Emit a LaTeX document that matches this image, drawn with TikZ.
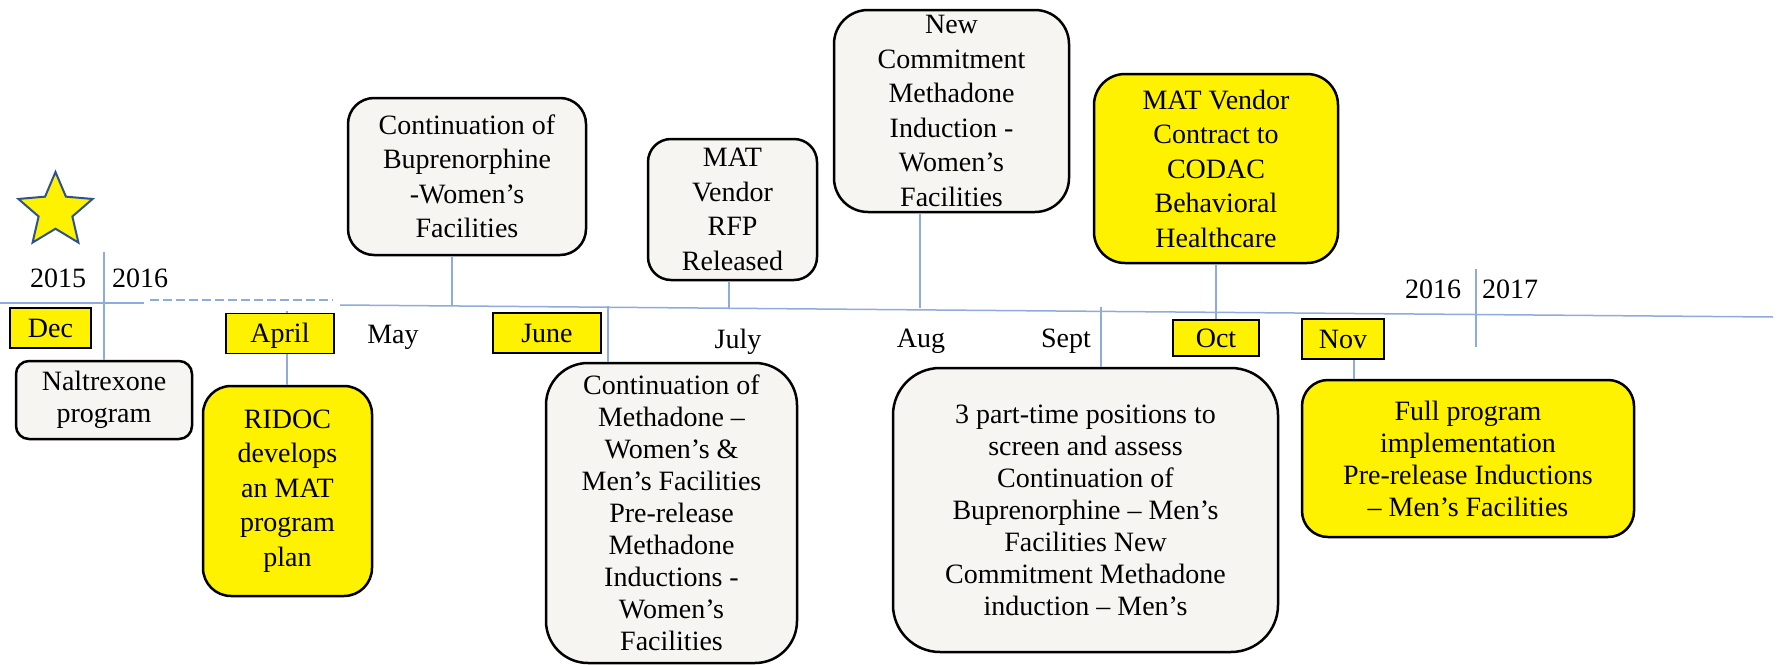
\documentclass[tikz,border=0pt]{standalone}
\usepackage{fontspec}
\setmainfont{Liberation Serif}
\usetikzlibrary{shapes.geometric}
\definecolor{tl}{RGB}{143,170,220}
\definecolor{boxgray}{RGB}{246,245,241}
\definecolor{staredge}{RGB}{47,82,143}
\begin{document}
\begin{tikzpicture}[x=1pt,y=-1pt,
  tline/.style={draw=tl, line width=1.5pt},
  evbox/.style={draw=black, line width=2.5pt, fill=boxgray, inner sep=0pt},
  ybox/.style={evbox, fill=yellow},
  mbox/.style={draw=black, line width=1.5pt, fill=yellow, inner sep=0pt,
    minimum height=40pt, text height=20pt, text depth=2pt,
    font=\fontsize{28}{30}\selectfont},
  lbl/.style={inner sep=0pt, anchor=base, font=\fontsize{28}{30}\selectfont},
  txtA/.style={align=center, inner sep=0pt, font=\fontsize{28}{34.5}\selectfont},
  txtB/.style={align=center, inner sep=0pt, font=\fontsize{28}{32}\selectfont}]
\useasboundingbox (0,0) rectangle (1777,664);

% timeline
\coordinate (tA0) at (0,303);
\coordinate (tA1) at (144,303);
\coordinate (tB0) at (150,300);
\coordinate (tB1) at (333,300);
\coordinate (tC0) at (340,305);
\coordinate (tC1) at (1773,317);
\draw[tline] (tA0) -- (tA1);
\draw[tline, dash pattern=on 9pt off 4pt] (tB0) -- (tB1);
\draw[tline] (tC0) -- (tC1);

% star
\node[star, star points=5, star point ratio=2.2, minimum size=78pt, inner sep=0pt,
  fill=yellow, draw=staredge, line width=2pt] (star) at (55.5,211) {};

% boxes
\node[evbox, minimum width=176pt, minimum height=78pt, rounded corners=13pt] (b1) at (104,400) {};
\node[ybox, minimum width=169pt, minimum height=210pt, rounded corners=28pt] (b2) at (287.5,491) {};
\node[evbox, minimum width=238pt, minimum height=157pt, rounded corners=26pt] (b3) at (467,176.5) {};
\node[evbox, minimum width=251pt, minimum height=300pt, rounded corners=42pt] (b4) at (671.5,513) {};
\node[evbox, minimum width=169pt, minimum height=141pt, rounded corners=23pt] (b5) at (732.5,209.5) {};
\node[evbox, minimum width=235pt, minimum height=202pt, rounded corners=34pt] (b6) at (951.5,111) {};
\node[ybox, minimum width=244pt, minimum height=189pt, rounded corners=31pt] (b7) at (1216,168.5) {};
\node[evbox, minimum width=385pt, minimum height=284pt, rounded corners=47pt] (b8) at (1085.5,510) {};
\node[ybox, minimum width=332pt, minimum height=157pt, rounded corners=26pt] (b9) at (1468,458.5) {};

% connectors
\coordinate (ydA) at (104,252);
\draw[tline] (ydA) -- (b1.north);
\coordinate (apr) at (287,311);
\draw[tline] (apr) -- (apr |- b2.north);
\coordinate (c3) at (452,306);
\draw[tline] (c3) -- (c3 |- b3.south);
\coordinate (c4) at (608,306);
\draw[tline] (c4) -- (c4 |- b4.north);
\coordinate (c5) at (729,309);
\draw[tline] (c5) -- (c5 |- b5.south);
\coordinate (c6) at (920,308);
\draw[tline] (c6) -- (c6 |- b6.south);
\coordinate (c8) at (1101,307);
\draw[tline] (c8) -- (c8 |- b8.north);
\coordinate (ydB0) at (1476,269);
\coordinate (ydB1) at (1476,347);
\draw[tline] (ydB0) -- (ydB1);

% month boxes
\node[mbox, minimum width=81pt] (mdec) at (50.5,328) {Dec};
\node[mbox, minimum width=108pt] (mapr) at (280,333.5) {April};
\node[mbox, minimum width=108pt] (mjun) at (547,333) {June};
\node[mbox, minimum width=86pt, minimum height=36pt] (moct) at (1216,338) {Oct};
\node[mbox, minimum width=82pt] (mnov) at (1343,339) {Nov};
\draw[tline] (b7.south) -- (moct.north);
\coordinate (c9) at (1354,0);
\draw[tline] (c9 |- mnov.south) -- (c9 |- b9.north);

% plain labels
\node[lbl] (y2015) at (58,287) {2015};
\node[lbl] (y2016a) at (140,287) {2016};
\node[lbl] (y2016b) at (1433,298) {2016};
\node[lbl] (y2017) at (1510,298) {2017};
\node[lbl] (lmay) at (393,343) {May};
\node[lbl] (ljul) at (738,348) {July};
\node[lbl] (laug) at (921,347) {Aug};
\node[lbl] (lsep) at (1066,347) {Sept};

% box texts
\node[txtB] (t1) at (b1.center) {Naltrexone\\program};
\node[txtA] (t2) at (b2.center) {RIDOC\\develops\\an MAT\\program\\plan};
\node[txtA] (t3) at (b3.center) {Continuation of\\Buprenorphine\\-Women's\\Facilities};
\node[txtB] (t4) at (b4.center) {Continuation of\\Methadone --\\Women's \&\\Men's Facilities\\Pre-release\\Methadone\\Inductions -\\Women's\\Facilities};
\node[txtA] (t5) at (b5.center) {MAT\\Vendor\\RFP\\Released};
\node[txtA] (t6) at (b6.center) {New\\Commitment\\Methadone\\Induction -\\Women's\\Facilities};
\node[txtA] (t7) at (b7.center) {MAT Vendor\\Contract to\\CODAC\\Behavioral\\Healthcare};
\node[txtB] (t8) at (b8.center) {3 part-time positions to\\screen and assess\\Continuation of\\Buprenorphine -- Men's\\Facilities New\\Commitment Methadone\\induction -- Men's};
\node[txtB] (t9) at (b9.center) {Full program\\implementation\\Pre-release Inductions\\-- Men's Facilities};
\end{tikzpicture}
\end{document}
